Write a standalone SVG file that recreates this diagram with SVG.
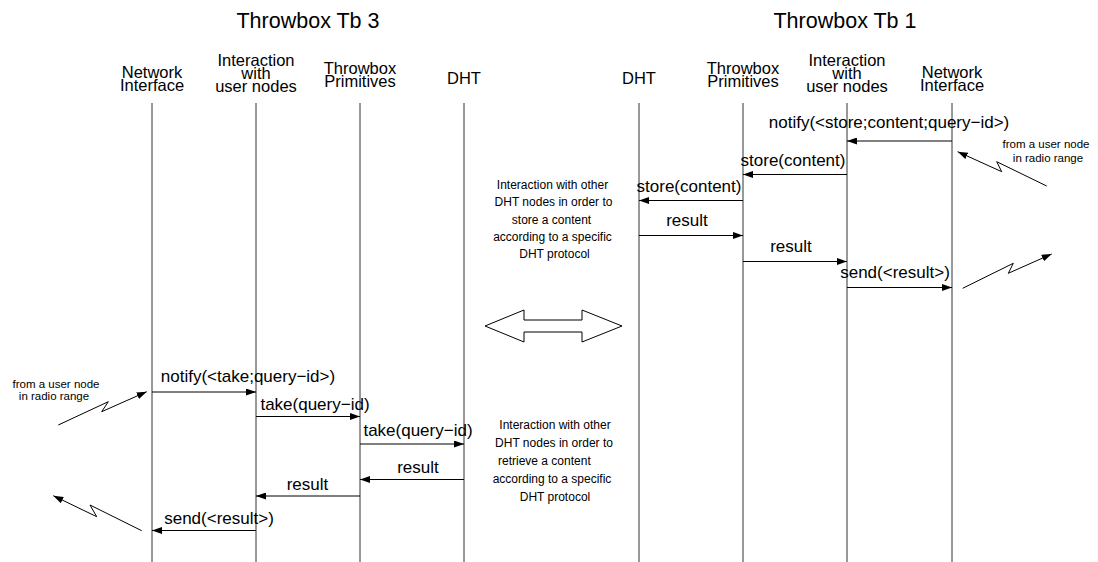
<svg xmlns="http://www.w3.org/2000/svg" width="1098" height="562" viewBox="0 0 1098 562">
<style>
text{font-family:"Liberation Sans",Arial,sans-serif;fill:#000}
.title{font-size:21.5px;text-anchor:middle}
.hdr{font-size:16.5px;text-anchor:middle}
.msg{font-size:17px;text-anchor:middle}
.note{font-size:12px;text-anchor:middle}
.radio{font-size:11.5px;text-anchor:middle}
.life{stroke:#333;stroke-width:1;fill:none}
.arr{stroke:#000;stroke-width:1;fill:none;marker-end:url(#ah)}
</style>
<defs>
<marker id="ah" markerUnits="userSpaceOnUse" markerWidth="10" markerHeight="7" refX="10" refY="3.5" orient="auto">
<path d="M0,0 L10,3.5 L0,7 z" fill="#000"/>
</marker>
</defs>
<rect width="1098" height="562" fill="#fff"/>
<text class="title" x="308" y="28">Throwbox Tb 3</text>
<text class="title" x="845" y="28">Throwbox Tb 1</text>

<g id="tb3-network">
<text class="hdr" x="152" y="77.5">Network</text>
<text class="hdr" x="152" y="90.5">Interface</text>
<line class="life" x1="152" y1="103" x2="152" y2="562"/>
</g>
<g id="tb3-interaction">
<text class="hdr" x="256" y="65.5">Interaction</text>
<text class="hdr" x="256" y="78.5">with</text>
<text class="hdr" x="256" y="91.5">user nodes</text>
<line class="life" x1="256" y1="103" x2="256" y2="562"/>
</g>
<g id="tb3-primitives">
<text class="hdr" x="360" y="73.5">Throwbox</text>
<text class="hdr" x="360" y="86.5">Primitives</text>
<line class="life" x1="360" y1="103" x2="360" y2="562"/>
</g>
<g id="tb3-dht">
<text class="hdr" x="464" y="83.5">DHT</text>
<line class="life" x1="464" y1="103" x2="464" y2="562"/>
</g>

<g id="tb1-dht">
<text class="hdr" x="639" y="83.5">DHT</text>
<line class="life" x1="639" y1="103" x2="639" y2="562"/>
</g>
<g id="tb1-primitives">
<text class="hdr" x="743" y="73.5">Throwbox</text>
<text class="hdr" x="743" y="86.5">Primitives</text>
<line class="life" x1="743" y1="103" x2="743" y2="562"/>
</g>
<g id="tb1-interaction">
<text class="hdr" x="847" y="65.5">Interaction</text>
<text class="hdr" x="847" y="78.5">with</text>
<text class="hdr" x="847" y="91.5">user nodes</text>
<line class="life" x1="847" y1="103" x2="847" y2="562"/>
</g>
<g id="tb1-network">
<text class="hdr" x="952" y="77.5">Network</text>
<text class="hdr" x="952" y="90.5">Interface</text>
<line class="life" x1="952" y1="103" x2="952" y2="562"/>
</g>

<g id="connectors">
<line class="arr" x1="952" y1="141" x2="847" y2="141"/>
<line class="arr" x1="847" y1="174.5" x2="743" y2="174.5"/>
<line class="arr" x1="743" y1="200.5" x2="639" y2="200.5"/>
<line class="arr" x1="639" y1="235.5" x2="743" y2="235.5"/>
<line class="arr" x1="743" y1="261.5" x2="847" y2="261.5"/>
<line class="arr" x1="847" y1="287.5" x2="952" y2="287.5"/>
<line class="arr" x1="152" y1="392" x2="256" y2="392"/>
<line class="arr" x1="256" y1="416.5" x2="360" y2="416.5"/>
<line class="arr" x1="360" y1="444" x2="464" y2="444"/>
<line class="arr" x1="464" y1="479.5" x2="360" y2="479.5"/>
<line class="arr" x1="360" y1="496" x2="256" y2="496"/>
<line class="arr" x1="256" y1="530.5" x2="152" y2="530.5"/>
<polyline class="arr" points="1046.7,186 996.7,161.7 1001.7,171.7 957.7,151.7"/>
<polyline class="arr" points="962.7,288.3 1013.3,263.3 1008.3,273.3 1051.7,254"/>
<polyline class="arr" points="58.3,425 108.3,401.7 101.7,411.7 146.7,391.7"/>
<polyline class="arr" points="141.7,530.7 90,505 96.7,516.7 53.3,495.7"/>
</g>

<g id="labels">
<text class="msg" x="889" y="128">notify(&lt;store;content;query−id&gt;)</text>
<text class="msg" x="793" y="166">store(content)</text>
<text class="msg" x="689" y="192">store(content)</text>
<text class="msg" x="687" y="226">result</text>
<text class="msg" x="791" y="252">result</text>
<text class="msg" x="895" y="278">send(&lt;result&gt;)</text>
<text class="msg" x="248" y="382">notify(&lt;take;query−id&gt;)</text>
<text class="msg" x="315" y="409.5">take(query−id)</text>
<text class="msg" x="418" y="436">take(query−id)</text>
<text class="msg" x="418" y="473">result</text>
<text class="msg" x="307.5" y="489.5">result</text>
<text class="msg" x="219" y="523.5">send(&lt;result&gt;)</text>
</g>

<g id="note-store">
<text class="note" x="552.5" y="188.5">Interaction with other</text>
<text class="note" x="553.5" y="206">DHT nodes in order to</text>
<text class="note" x="551.5" y="223.5">store a content</text>
<text class="note" x="552.5" y="240.5">according to a specific</text>
<text class="note" x="554.5" y="257.5">DHT protocol</text>
</g>
<g id="note-retrieve">
<text class="note" x="555" y="429">Interaction with other</text>
<text class="note" x="554" y="447">DHT nodes in order to</text>
<text class="note" x="498" y="465" style="text-anchor:start">retrieve a content</text>
<text class="note" x="552" y="483">according to a specific</text>
<text class="note" x="555" y="501">DHT protocol</text>
</g>
<g id="radio-tb1">
<text class="radio" x="1046" y="148">from a user node</text>
<text class="radio" x="1048" y="161.5">in radio range</text>
</g>
<g id="radio-tb3">
<text class="radio" x="56" y="388">from a user node</text>
<text class="radio" x="54" y="400">in radio range</text>
</g>
<g id="exchange">
<polygon points="485,326 524,310 524,320 582,320 582,310 622,326 582,342 582,332 524,332 524,342" fill="#fff" stroke="#000" stroke-width="1"/>
</g>
</svg>
